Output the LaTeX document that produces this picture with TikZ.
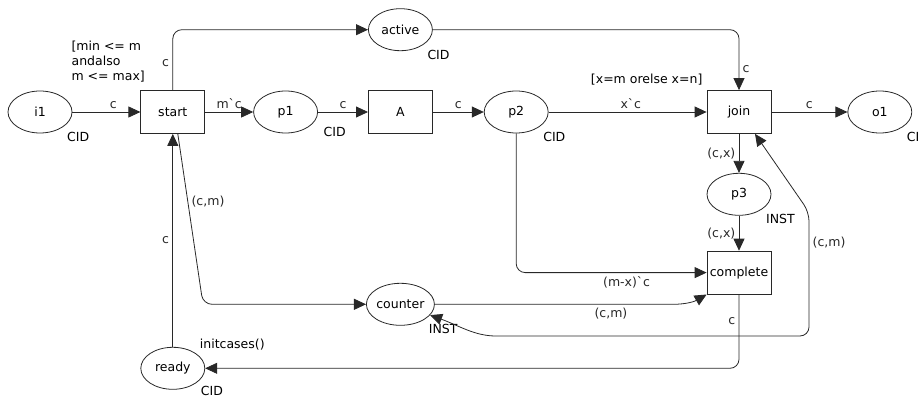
\documentclass[tikz,border=0pt]{standalone}
\usepackage{fontspec}
\setmainfont{DejaVu Sans}[Ligatures=TeXOff]
\usetikzlibrary{arrows.meta,positioning,shapes.geometric}
\definecolor{netline}{RGB}{40,40,40}

\begin{document}
\begin{tikzpicture}[x=1pt,y=1pt,font=\fontsize{12.5}{15}\selectfont]
        \useasboundingbox (0,0) rectangle (920,-398);
        \tikzstyle{placenode}=[draw=netline,line width=0.8pt,ellipse,minimum width=64pt,minimum height=42pt,inner sep=0pt]
        \tikzstyle{transbox}=[draw=netline,line width=0.8pt,minimum width=64pt,minimum height=43pt,inner sep=2pt]
        \tikzstyle{inscr}=[inner sep=0pt]
        \tikzstyle{arcline}=[-{Triangle[length=12pt,width=11pt]},netline,line width=0.8pt]
        \node[placenode] (i1) at (40,-112) {i1};
        \node[transbox,right=68pt of i1] (start) {start};
        \node[placenode,right=48pt of start] (p1) {p1};
        \node[transbox,right=50pt of p1] (A) {A};
        \node[placenode,right=51pt of A] (p2) {p2};
        \node[transbox,right=158pt of p2] (join) {join};
        \node[placenode,right=76pt of join] (o1) {o1};
        \node[placenode,above=39pt of A] (active) {active};
        \node[placenode,below=39pt of join] (p3) {p3};
        \node[transbox,below=35pt of p3] (complete) {complete};
        \node[placenode,below=149pt of A] (counter) {counter};
        \node[placenode,below=213pt of start] (ready) {ready};
        \node[inscr,below right=5pt and 4pt of i1.south east] (i1cs) {CID};
        \node[inscr,below right=0pt and 15pt of p1.south east] (p1cs) {CID};
        \node[inscr,below right=5pt and 4pt of p2.south east] (p2cs) {CID};
        \node[inscr,below right=5pt and 4pt of o1.south east] (o1cs) {CID};
        \node[inscr,below right=5pt and 4pt of active.south east] (activecs) {CID};
        \node[inscr,below right=3pt and 5pt of ready.south east] (readycs) {CID};
        \node[inscr,below right=5pt and 4pt of p3.south east] (p3cs) {INST};
        \node[inscr,below right=5pt and 4pt of counter.south east] (countercs) {INST};
        \node[inscr,align=left,anchor=south west] (startguard) at ([xshift=-69pt,yshift=8pt]start.north west) {[min <= m\\andalso\\m <= max]};
        \node[inscr,anchor=south east] (joinguard) at ([xshift=-4pt,yshift=5pt]join.north west) {[x=m orelse x=n]};
        \node[inscr,anchor=south west] (readyinit) at ([xshift=4pt,yshift=3pt]ready.north east) {initcases()};
        \draw[arcline] (i1) -- node[above,pos=0.6]{c} (start);
        \draw[arcline] (start) -- node[above]{m`c} (p1);
        \draw[arcline] (p1) -- node[above]{c} (A);
        \draw[arcline] (A) -- node[above]{c} (p2);
        \draw[arcline] (p2) -- node[above,pos=0.52]{x`c} (join);
        \draw[arcline] (join) -- node[above]{c} (o1);
        \draw[arcline,rounded corners=9pt] (start.north) |- node[left,pos=0.22]{c} (active);
        \draw[arcline,rounded corners=9pt] (active) -| node[right,pos=0.83]{c} (join);
        \draw[arcline] (join) -- node[left]{(c,x)} (p3);
        \draw[arcline] (p3) -- node[left]{(c,x)} (complete);
        \draw[arcline,rounded corners=9pt] (p2) |- node[below,pos=0.79]{(m-x)`c} (complete);
        \draw[arcline,rounded corners=9pt] ([xshift=5pt]start.south) -- node[right,pos=0.4]{(c,m)} ([xshift=-163pt]counter.west) -- (counter);
        \draw[arcline] (counter.east) -- node[below,pos=0.74]{(c,m)} ++(238,0) to[out=0,in=210] (complete.south west);
        \draw[arcline,rounded corners=9pt] (complete) |- node[left,pos=0.18]{c} (ready);
        \draw[arcline] (ready) -- node[left]{c} (start);
        \draw[arcline,{Triangle[length=12pt,width=11pt]}-{Triangle[length=12pt,width=11pt]},rounded corners=9pt] (counter.-20) to[out=-20,in=180] (505,-336) -- (809,-336) -- node[right,pos=0.75]{(c,m)} (809,-212) -- ([xshift=16pt]join.south);
      \end{tikzpicture}
\end{document}
